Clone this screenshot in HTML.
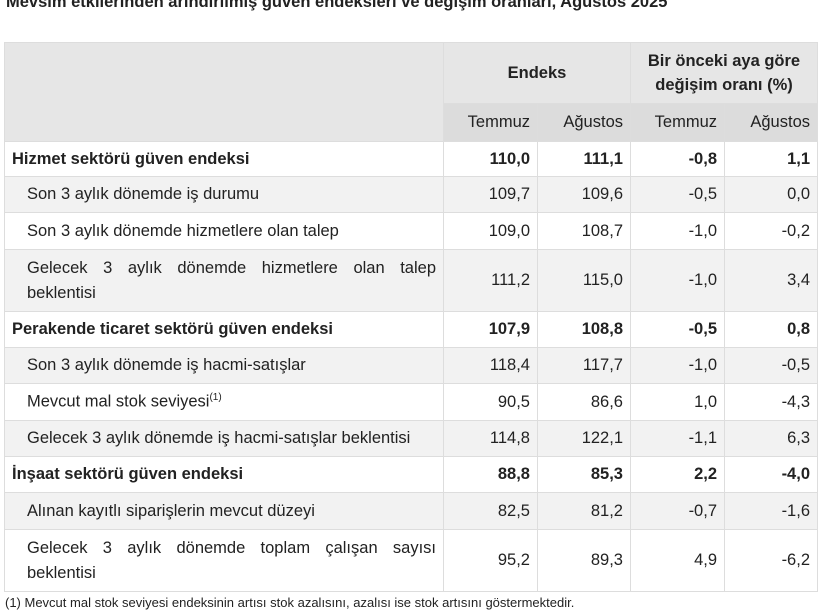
<!DOCTYPE html>
<html><head><meta charset="utf-8"><style>
body{margin:0;width:820px;height:609px;background:#fff;font-family:"Liberation Sans","DejaVu Sans",sans-serif;color:#222;overflow:hidden;position:relative}
.t{position:absolute;left:6px;top:-7px;font-weight:bold;font-size:16.5px;white-space:nowrap}
table{position:absolute;left:4px;top:42px;border-collapse:collapse;font-size:16.5px;table-layout:fixed}
td{border:1px solid #ddd;padding:0 7px;text-align:right;vertical-align:middle;white-space:nowrap}
td.l{text-align:left;padding-left:22px}
td.b{font-weight:bold}
tr.g td{background:#f2f2f2}
.h1 td{background:#e6e6e6;height:60px;font-weight:bold;text-align:center;line-height:24px}
.h2 td{background:#dcdcdc;height:37px}
.lj{text-align:justify !important;text-align-last:justify;line-height:25px;padding-right:7px !important}
.f{position:absolute;left:5px;top:595px;font-size:13px;white-space:nowrap}
</style></head><body>
<div class="t">Mevsim etkilerinden arındırılmış güven endeksleri ve değişim oranları, Ağustos 2025</div>
<table>
<colgroup><col style="width:439px"><col style="width:94px"><col style="width:93px"><col style="width:94px"><col style="width:93px"></colgroup>
<tr class="h1"><td rowspan="2" style="background:#e6e6e6"></td><td colspan="2">Endeks</td><td colspan="2">Bir önceki aya göre<br>değişim oranı (%)</td></tr>
<tr class="h2"><td>Temmuz</td><td>Ağustos</td><td>Temmuz</td><td>Ağustos</td></tr>
<tr style="height:35px"><td class="b" style="text-align:left">Hizmet sektörü güven endeksi</td><td class="b">110,0</td><td class="b">111,1</td><td class="b">-0,8</td><td class="b">1,1</td></tr>
<tr class="g" style="height:36px"><td class="l">Son 3 aylık dönemde iş durumu</td><td>109,7</td><td>109,6</td><td>-0,5</td><td>0,0</td></tr>
<tr style="height:37px"><td class="l">Son 3 aylık dönemde hizmetlere olan talep</td><td>109,0</td><td>108,7</td><td>-1,0</td><td>-0,2</td></tr>
<tr class="g" style="height:62px"><td class="l lj">Gelecek 3 aylık dönemde hizmetlere olan talep<br>beklentisi</td><td>111,2</td><td>115,0</td><td>-1,0</td><td>3,4</td></tr>
<tr style="height:36px"><td class="b" style="text-align:left">Perakende ticaret sektörü güven endeksi</td><td class="b">107,9</td><td class="b">108,8</td><td class="b">-0,5</td><td class="b">0,8</td></tr>
<tr class="g" style="height:36px"><td class="l">Son 3 aylık dönemde iş hacmi-satışlar</td><td>118,4</td><td>117,7</td><td>-1,0</td><td>-0,5</td></tr>
<tr style="height:37px"><td class="l">Mevcut mal stok seviyesi<sup style="font-size:10px">(1)</sup></td><td>90,5</td><td>86,6</td><td>1,0</td><td>-4,3</td></tr>
<tr class="g" style="height:36px"><td class="l">Gelecek 3 aylık dönemde iş hacmi-satışlar beklentisi</td><td>114,8</td><td>122,1</td><td>-1,1</td><td>6,3</td></tr>
<tr style="height:36px"><td class="b" style="text-align:left">İnşaat sektörü güven endeksi</td><td class="b">88,8</td><td class="b">85,3</td><td class="b">2,2</td><td class="b">-4,0</td></tr>
<tr class="g" style="height:37px"><td class="l">Alınan kayıtlı siparişlerin mevcut düzeyi</td><td>82,5</td><td>81,2</td><td>-0,7</td><td>-1,6</td></tr>
<tr style="height:62px"><td class="l lj">Gelecek 3 aylık dönemde toplam çalışan sayısı<br>beklentisi</td><td>95,2</td><td>89,3</td><td>4,9</td><td>-6,2</td></tr>
</table>
<div class="f">(1) Mevcut mal stok seviyesi endeksinin artısı stok azalısını, azalısı ise stok artısını göstermektedir.</div>
</body></html>
